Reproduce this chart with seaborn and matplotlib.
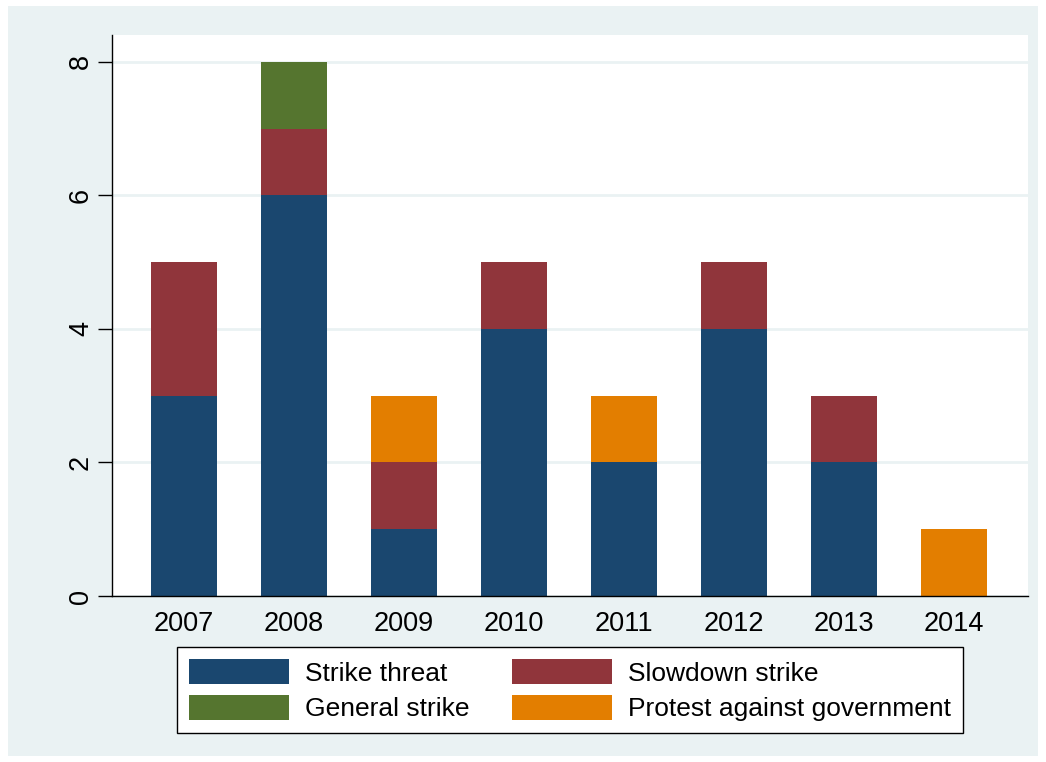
import pandas as pd
import seaborn as sns
import numpy as np
import matplotlib.pyplot as plt
from matplotlib.patches import Rectangle

# values
years = ['2007', '2008', '2009', '2010', '2011', '2012', '2013', '2014']
strike_threat = [3, 6, 1, 4, 2, 4, 2, 0]
slowdown_strike = [2, 1, 1, 1, 0, 1, 1, 0]
general_strike = [0, 1, 0, 0, 0, 0, 0, 0]
protest_gov = [0, 0, 1, 0, 1, 0, 0, 1]

series = ['Strike threat', 'Slowdown strike', 'General strike', 'Protest against government']
values = [strike_threat, slowdown_strike, general_strike, protest_gov]
colors = ['#1a476f', '#90353b', '#55752f', '#e37e00']

sns.set_style('white')
plt.rcParams['font.family'] = ['Liberation Sans', 'DejaVu Sans']
plt.rcParams['text.color'] = 'black'
plt.rcParams['xtick.color'] = 'black'
plt.rcParams['ytick.color'] = 'black'

fig = plt.figure(figsize=(10.46, 7.62), dpi=100)
fig.patch.set_facecolor('white')
# stata style graph region
fig.patches.append(Rectangle((8 / 1046, 6 / 762), 1 - 16 / 1046, 1 - 12 / 762,
                             transform=fig.transFigure, facecolor='#eaf2f3',
                             edgecolor='none', zorder=-10))
ax = fig.add_axes([112 / 1046, 1 - 596 / 762, 916 / 1046, 561 / 762])
ax.set_facecolor('white')

bottom = np.zeros(len(years))
for name, vals, col in zip(series, values, colors):
    df = pd.DataFrame({'year': years, 'count': vals})
    sns.barplot(data=df, x='year', y='count', color=col, bottom=bottom,
                width=0.6, ax=ax, label=name, saturation=1, linewidth=0)
    bottom = bottom + np.array(vals)

ax.set_xlim(-0.655, 7.67)
ax.set_ylim(0, 8.4)
ax.set_yticks([0, 2, 4, 6, 8])
ax.yaxis.grid(True, color='#eaf2f3', linewidth=2)
ax.set_axisbelow(True)
ax.set_xlabel('')
ax.set_ylabel('')
for s in ['top', 'right']:
    ax.spines[s].set_visible(False)
for s in ['left', 'bottom']:
    ax.spines[s].set_color('black')
    ax.spines[s].set_linewidth(1)
ax.tick_params(axis='y', left=True, length=10, width=1, labelsize=19.5, pad=3)
ax.tick_params(axis='x', bottom=False, labelsize=19.5, pad=7)
for lab in ax.get_yticklabels():
    lab.set_rotation(90)
    lab.set_va('center')

handles, labels = ax.get_legend_handles_labels()
if ax.legend_:
    ax.legend_.remove()
# column-major fill -> rows: threat/slowdown, general/protest
order = [0, 2, 1, 3]
leg = fig.legend([handles[i] for i in order], [labels[i] for i in order],
                 loc='upper center', bbox_to_anchor=(570 / 1046, 1 - 647 / 762),
                 borderaxespad=0, ncol=2, frameon=True, fancybox=False, fontsize=19,
                 handlelength=3.8, handleheight=1.1, columnspacing=1.6,
                 borderpad=0.45, labelspacing=0.35, handletextpad=0.6)
leg.get_frame().set_edgecolor('black')
leg.get_frame().set_facecolor('white')
leg.get_frame().set_alpha(1)
leg.get_frame().set_linewidth(1)

fig.savefig('out.png', dpi=100, facecolor='white')
